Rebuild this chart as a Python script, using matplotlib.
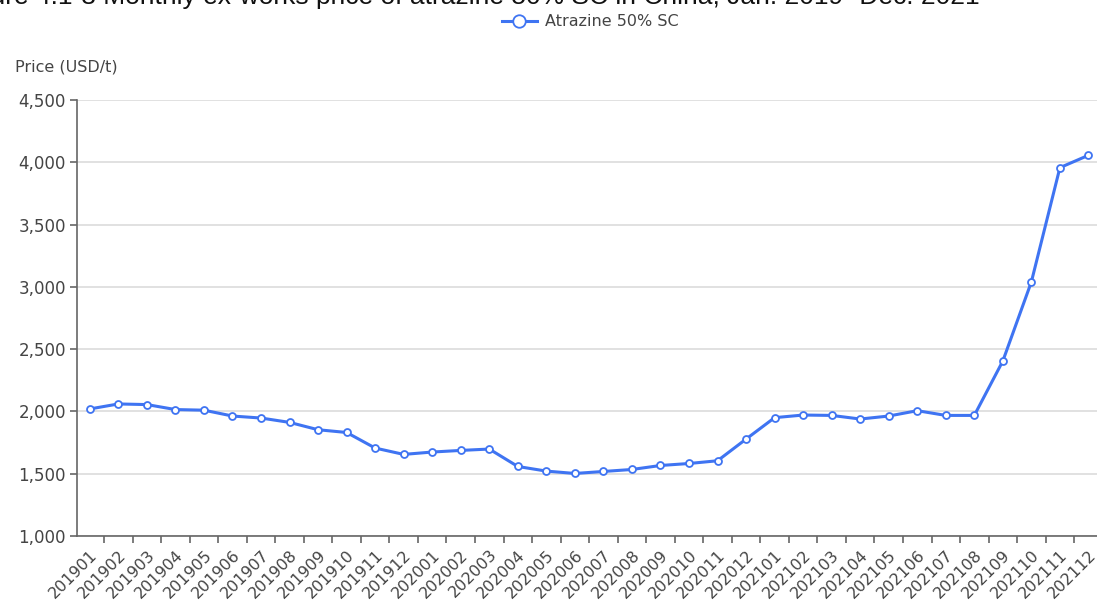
import matplotlib
matplotlib.use("Agg")
import matplotlib.pyplot as plt
from matplotlib.ticker import FuncFormatter, FixedLocator

months = ['201901', '201902', '201903', '201904', '201905', '201906',
          '201907', '201908', '201909', '201910', '201911', '201912',
          '202001', '202002', '202003', '202004', '202005', '202006',
          '202007', '202008', '202009', '202010', '202011', '202012',
          '202101', '202102', '202103', '202104', '202105', '202106',
          '202107', '202108', '202109', '202110', '202111', '202112']
price = [2020, 2060, 2055, 2015, 2010, 1963, 1947, 1912, 1853, 1831, 1706, 1655,
         1674, 1687, 1698, 1558, 1521, 1502, 1518, 1534, 1566, 1582, 1604, 1778,
         1950, 1971, 1968, 1939, 1963, 2006, 1968, 1968, 2405, 3040, 3957, 4056]
yticks = [1000, 1500, 2000, 2500, 3000, 3500, 4000, 4500]

plt.rcParams['font.family'] = ['DejaVu Sans']

fig = plt.figure(figsize=(10.97, 6), dpi=100)
ax = fig.add_axes([77 / 1097, 64 / 600, 1020 / 1097, 436 / 600])

x = list(range(len(months)))
line_color = '#3f74f2'
ax.plot(x, price, color=line_color, lw=2.2, marker='o', ms=5,
        mfc='white', mec=line_color, mew=1.3, zorder=3, label='Atrazine 50% SC')

ax.set_xlim(-0.45, 35.3)
ax.set_ylim(1000, 4500)
ax.set_yticks(yticks)
ax.yaxis.set_major_formatter(FuncFormatter(lambda v, p: f'{int(v):,}'))
ax.grid(axis='y', color='#dcdcdc', lw=1.2)
ax.set_axisbelow(True)

ax.set_xticks(x)
ax.set_xticklabels(months, rotation=45, ha='right', va='top',
                   rotation_mode='anchor', fontsize=11.5, color='#444444')
ax.xaxis.set_minor_locator(FixedLocator([i - 0.5 for i in range(len(months) + 1)]))
ax.tick_params(axis='x', which='major', length=0, pad=8)
ax.tick_params(axis='x', which='minor', length=5, color='#666666', width=1.2)
ax.tick_params(axis='y', length=5, color='#666666', width=1.2,
               labelsize=12, labelcolor='#444444', pad=3)

for side in ['top', 'right']:
    ax.spines[side].set_visible(False)
for side in ['left', 'bottom']:
    ax.spines[side].set_color('#666666')
    ax.spines[side].set_linewidth(1.2)

fig.text(15 / 1097, 1 - 67 / 600, 'Price (USD/t)', fontsize=11.5,
         color='#444444', va='center', ha='left')

leg = ax.legend(loc='center', bbox_to_anchor=(590 / 1097, 1 - 22 / 600),
                bbox_transform=fig.transFigure, frameon=False, fontsize=11.5,
                handlelength=2.2, markerscale=1.8, handletextpad=0.5)
for t in leg.get_texts():
    t.set_color('#444444')

fig.text(980 / 1097, 1 - 4 / 600,
         'Figure 4.1-3 Monthly ex-works price of atrazine 50% SC in China, Jan. 2019- Dec. 2021',
         fontsize=19, family=['Liberation Sans', 'DejaVu Sans'], color='#111111',
         ha='right', va='baseline')

fig.savefig('out.png', dpi=100)
